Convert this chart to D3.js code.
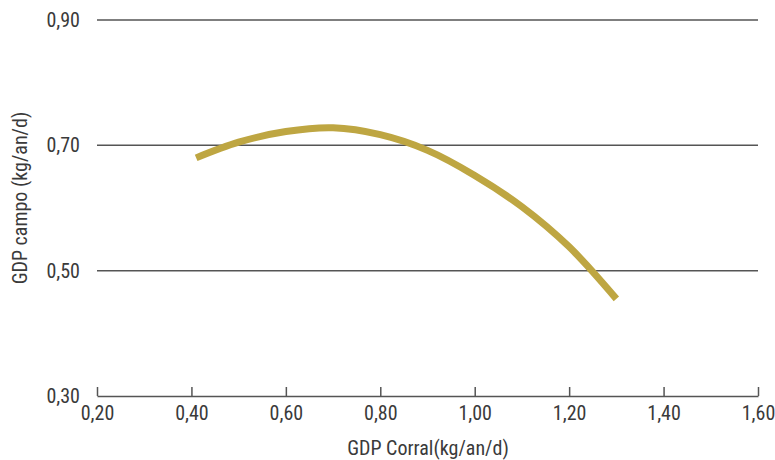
<!DOCTYPE html>
<html><head><meta charset="utf-8">
<script src="https://cdn.jsdelivr.net/npm/d3@7"></script>
<style>
body{margin:0;background:#fff;}
text{font-family:"Liberation Sans Narrow","Roboto Condensed","Liberation Sans",sans-serif;fill:#3a3a3a;font-weight:normal;}
</style></head>
<body>
<svg id="c" width="775" height="460"></svg>
<script>
const xValues = [0.41, 0.50, 0.60, 0.70, 0.80, 0.90, 1.00, 1.10, 1.20, 1.30];
const yValues = [0.680, 0.705, 0.722, 0.728, 0.717, 0.692, 0.652, 0.602, 0.538, 0.455];
const xTicks = [0.20, 0.40, 0.60, 0.80, 1.00, 1.20, 1.40, 1.60];
const yTicks = [0.30, 0.50, 0.70, 0.90];
const xTitle = "GDP Corral(kg/an/d)";
const yTitle = "GDP campo (kg/an/d)";

const svg = d3.select("#c");
const x = d3.scaleLinear().domain([0.2, 1.6]).range([97, 758]);
const y = d3.scaleLinear().domain([0.3, 0.9]).range([396, 20]);
const fmt = d => d.toFixed(2).replace(".", ",");

// gridlines
svg.append("g").selectAll("line").data(yTicks.filter(d => d > 0.3)).join("line")
  .attr("x1", x(0.2)).attr("x2", x(1.6))
  .attr("y1", d => y(d)).attr("y2", d => y(d))
  .attr("stroke", "#555").attr("stroke-width", 1.5);

// x axis
const xa = svg.append("g").attr("transform", `translate(0,${y(0.3)})`)
  .call(d3.axisBottom(x).tickValues(xTicks).tickFormat(fmt).tickSize(0).tickPadding(10));
xa.select(".domain").attr("stroke", "#555").attr("stroke-width", 1.5);
xa.selectAll("text").attr("font-size", 20).attr("fill", null);
xa.selectAll(".tick").append("line").attr("y1", 0).attr("y2", -9).attr("stroke", "#555").attr("stroke-width", 1.5);

// y axis labels
const ya = svg.append("g").attr("transform", `translate(${x(0.2)},0)`)
  .call(d3.axisLeft(y).tickValues(yTicks).tickFormat(fmt).tickSize(0).tickPadding(17));
ya.select(".domain").remove();
ya.selectAll("text").attr("font-size", 20).attr("fill", null);
svg.selectAll("g").attr("font-family", null).attr("font-size", null);

// titles
svg.append("text").attr("x", 428).attr("y", 455).attr("text-anchor", "middle")
  .attr("font-size", 20).text(xTitle);
svg.append("text").attr("transform", "translate(27,198) rotate(-90)").attr("text-anchor", "middle")
  .attr("font-size", 20).text(yTitle);

// curve
const data = xValues.map((v, i) => [v, yValues[i]]);
svg.append("path").datum(data)
  .attr("fill", "none").attr("stroke", "#bea642").attr("stroke-width", 7)
  .attr("d", d3.line().x(d => x(d[0])).y(d => y(d[1])).curve(d3.curveCatmullRom));
</script>
</body></html>
